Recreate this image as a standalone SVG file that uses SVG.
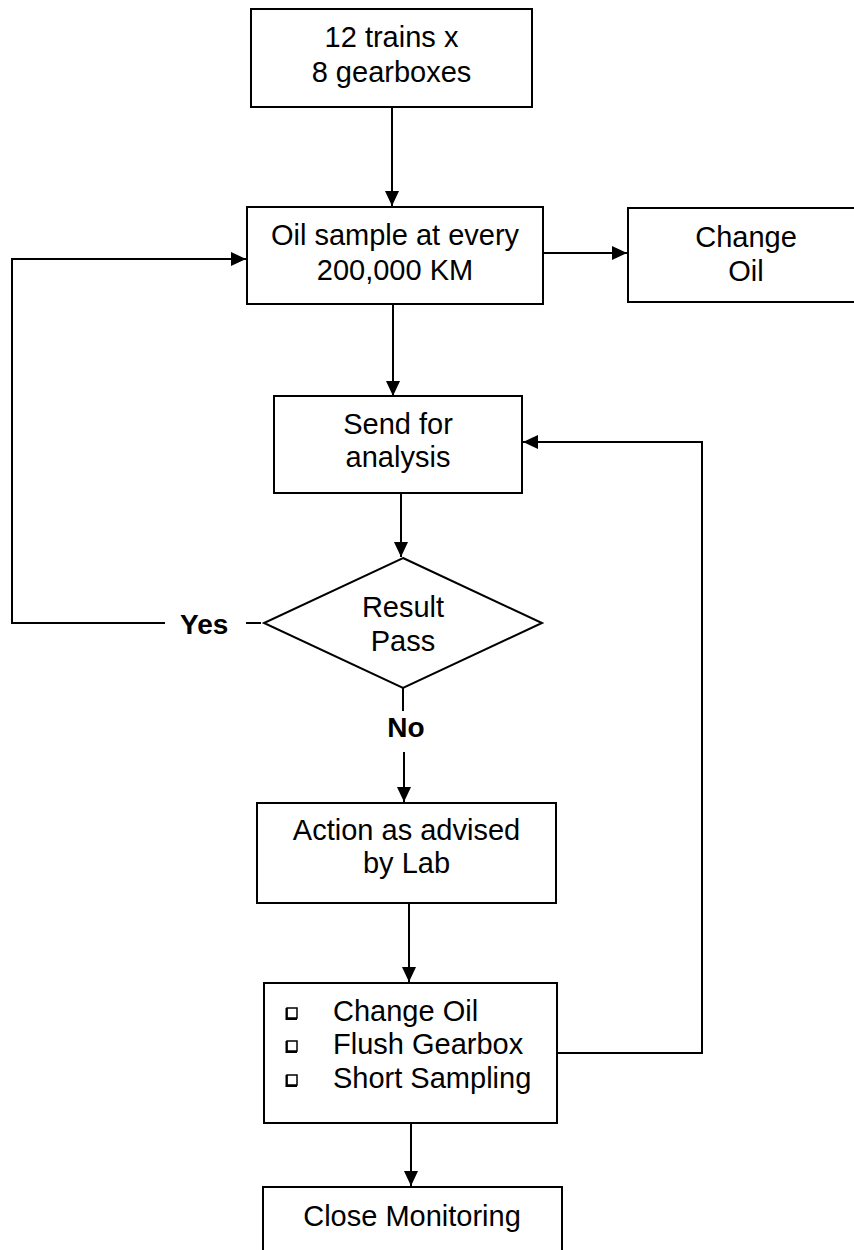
<svg xmlns="http://www.w3.org/2000/svg" width="854" height="1250" viewBox="0 0 854 1250">
<style>
  .box { fill: #ffffff; stroke: #000000; stroke-width: 2; }
  .t { font-family: "Liberation Sans", Arial, sans-serif; font-size: 29px; fill: #000000; text-anchor: middle; }
  .tl { font-family: "Liberation Sans", Arial, sans-serif; font-size: 29px; fill: #000000; }
  .lbl { font-family: "Liberation Sans", Arial, sans-serif; font-size: 28px; font-weight: bold; fill: #000000; }
  .c { fill: none; stroke: #000000; stroke-width: 2; }
  .chk { fill: #ffffff; stroke: #000000; stroke-width: 1.5; }
</style>
<defs>
  <marker id="arr" viewBox="0 0 15 14" refX="15" refY="7" markerWidth="15" markerHeight="14" markerUnits="userSpaceOnUse" orient="auto">
    <path d="M0,0 L15,7 L0,14 Z" fill="#000000"/>
  </marker>
</defs>
<rect width="854" height="1250" fill="#ffffff"/>

<g id="connectors">
  <path class="c" d="M392,107 V206" marker-end="url(#arr)"/>
  <path class="c" d="M543,253 H627" marker-end="url(#arr)"/>
  <path class="c" d="M393,305 V396" marker-end="url(#arr)"/>
  <path class="c" d="M401,493 V557" marker-end="url(#arr)"/>
  <path class="c" d="M246,623 H261"/>
  <path class="c" d="M165,623 H12 V259 H246" marker-end="url(#arr)"/>
  <path class="c" d="M403,688 V711"/>
  <path class="c" d="M404,752 V802" marker-end="url(#arr)"/>
  <path class="c" d="M409,903 V982" marker-end="url(#arr)"/>
  <path class="c" d="M557,1053 H702 V442 H523" marker-end="url(#arr)"/>
  <path class="c" d="M411,1123 V1186" marker-end="url(#arr)"/>
</g>

<g id="start">
  <rect class="box" x="251" y="9" width="281" height="98"/>
  <text class="t" x="391.5" y="47">12 trains x</text>
  <text class="t" x="391.5" y="82">8 gearboxes</text>
</g>

<g id="sample">
  <rect class="box" x="247" y="207" width="296" height="97"/>
  <text class="t" x="395" y="245">Oil sample at every</text>
  <text class="t" x="395" y="280">200,000 KM</text>
</g>

<g id="changeoil">
  <rect class="box" x="628" y="208" width="240" height="94"/>
  <text class="t" x="746" y="247">Change</text>
  <text class="t" x="746" y="281">Oil</text>
</g>

<g id="send">
  <rect class="box" x="274" y="396" width="248" height="97"/>
  <text class="t" x="398" y="434">Send for</text>
  <text class="t" x="398" y="467">analysis</text>
</g>

<g id="decision">
  <polygon class="box" points="403,558 542,623 403,688 264,623"/>
  <text class="t" x="403" y="617">Result</text>
  <text class="t" x="403" y="651">Pass</text>
</g>

<g id="yes-label">
  <text class="lbl" x="180" y="634">Yes</text>
</g>

<g id="no-label">
  <text class="lbl" x="406" y="737" text-anchor="middle">No</text>
</g>

<g id="action">
  <rect class="box" x="257" y="803" width="299" height="100"/>
  <text class="t" x="406.5" y="840">Action as advised</text>
  <text class="t" x="406.5" y="873">by Lab</text>
</g>

<g id="measures">
  <rect class="box" x="264" y="983" width="293" height="140"/>
  <rect class="chk" x="287" y="1008" width="10" height="10"/>
  <path class="c" d="M286.5,1008 V1019 H297" stroke-width="2.5"/>
  <rect class="chk" x="287" y="1041" width="10" height="10"/>
  <path class="c" d="M286.5,1041 V1052 H297" stroke-width="2.5"/>
  <rect class="chk" x="287" y="1075" width="10" height="10"/>
  <path class="c" d="M286.5,1075 V1086 H297" stroke-width="2.5"/>
  <text class="tl" x="333" y="1021">Change Oil</text>
  <text class="tl" x="333" y="1054">Flush Gearbox</text>
  <text class="tl" x="333" y="1088">Short Sampling</text>
</g>

<g id="close">
  <rect class="box" x="263" y="1187" width="299" height="80"/>
  <text class="t" x="412" y="1226">Close Monitoring</text>
</g>
</svg>
